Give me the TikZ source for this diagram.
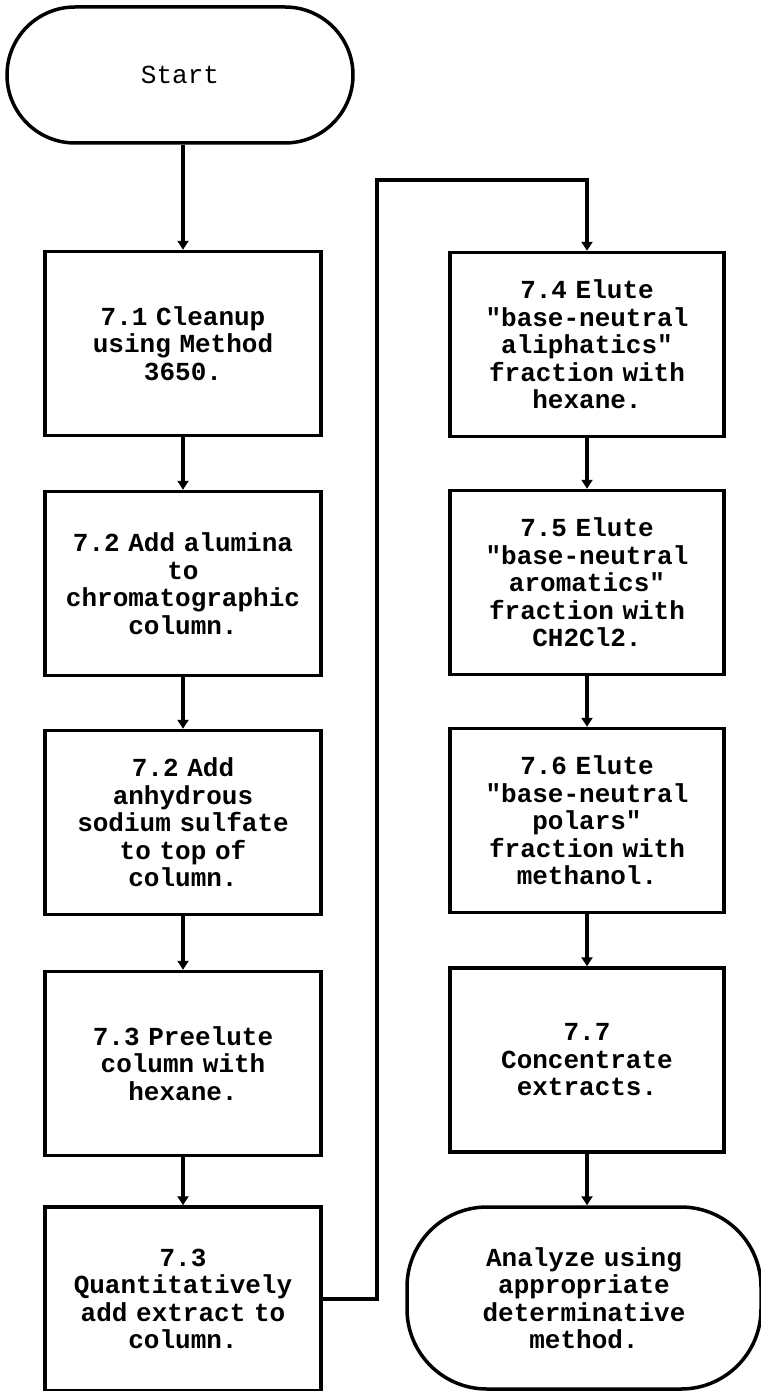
\documentclass[tikz,border=0pt]{standalone}
\usepackage{fontspec}
\setmonofont{Liberation Mono}
\usetikzlibrary{arrows.meta}
\begin{document}
\begin{tikzpicture}[x=1pt,y=-1pt,
  every node/.style={font=\ttfamily\bfseries\fontsize{26}{27.5}\selectfont, align=center, inner sep=0pt},
  stepbox/.style={draw, line width=3.5pt, minimum height=184pt, text width=270pt},
  lbox/.style={stepbox, minimum width=276pt},
  rbox/.style={stepbox, minimum width=274pt},
  term/.style={draw, line width=3.5pt, rounded corners=#1},
  arr/.style={line width=3.5pt, -{Triangle[width=11pt,length=9pt]}}
]
\useasboundingbox (0,0) rectangle (760,1391);
% terminals
\node[term=68pt, minimum width=346pt, minimum height=136pt, font=\ttfamily\fontsize{26}{27}\selectfont] (start) at (180,75) {Start};
\node[term=80pt, minimum width=354pt, minimum height=182pt, text width=340pt] (end) at (584,1298) {Analyze using\\appropriate\\determinative\\method.\\[10pt]};
% left column
\node[lbox] (a) at (183,343.5) {7.1 Cleanup\\using Method\\3650.};
\node[lbox] (b) at (183,583.5) {7.2 Add alumina\\to\\chromatographic\\column.\\[8pt]};
\node[lbox] (c) at (183,822.5) {7.2 Add\\anhydrous\\sodium sulfate\\to top of\\column.};
\node[lbox] (d) at (183,1063.5) {7.3 Preelute\\column with\\hexane.};
\node[lbox] (e) at (183,1299) {7.3\\Quantitatively\\add extract to\\column.\\[10pt]};
% right column
\node[rbox] (f) at (587,344.5) {7.4 Elute\\"base-neutral\\aliphatics"\\fraction with\\hexane.};
\node[rbox] (g) at (587,582.5) {7.5 Elute\\"base-neutral\\aromatics"\\fraction with\\CH2Cl2.};
\node[rbox] (h) at (587,820.5) {7.6 Elute\\"base-neutral\\polars"\\fraction with\\methanol.};
\node[rbox] (i) at (587,1060) {7.7\\Concentrate\\extracts.};
\coordinate (turn) at (377,180);
% connectors
\draw[arr] (start.south -| a.north) -- (a.north);
\draw[arr] (a) -- (b);
\draw[arr] (b) -- (c);
\draw[arr] (c) -- (d);
\draw[arr] (d) -- (e);
\draw[arr] (e.east) -| (turn) -| (f.north);
\draw[arr] (f) -- (g);
\draw[arr] (g) -- (h);
\draw[arr] (h) -- (i);
\draw[arr] (i.south) -- (end.north -| i.south);
\end{tikzpicture}
\end{document}
